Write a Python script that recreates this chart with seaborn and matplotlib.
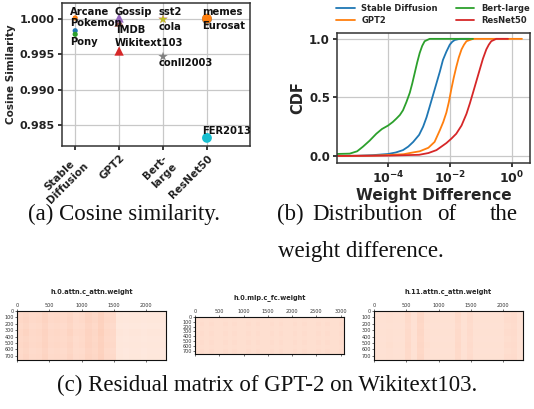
import numpy as np
import pandas as pd
import matplotlib
matplotlib.use('Agg')
import matplotlib.pyplot as plt
import seaborn as sns

# ---------------- data: (a) cosine similarity ----------------
model_keys = ['Stable Diffusion', 'GPT2', 'Bert-large', 'ResNet50']
model_ticklabels = ['Stable\nDiffusion', 'GPT2', 'Bert-\nlarge', 'ResNet50']
ds_model = ['Stable Diffusion', 'Stable Diffusion', 'Stable Diffusion',
            'GPT2', 'GPT2', 'GPT2',
            'Bert-large', 'Bert-large', 'Bert-large',
            'ResNet50', 'ResNet50', 'ResNet50']
ds_names = ['Arcane', 'Pokemon', 'Pony',
            'IMDB', 'Gossip', 'Wikitext103',
            'cola', 'sst2', 'conll2003',
            'Eurosat', 'memes', 'FER2013']
ds_cos = [1.0001, 0.9983, 0.9978,
          0.9995, 1.0001, 0.99545,
          0.99995, 0.9999, 0.99467,
          0.99995, 1.0000, 0.98324]
ds_colors = ['#ff7f0e', '#1f77b4', '#2ca02c',
             '#8c564b', '#9467bd', '#d62728',
             '#e377c2', '#bcbd22', '#7f7f7f',
             '#1f77b4', '#ff7f0e', '#17becf']
label_y = [1.00096, 0.99932, 0.99672,
           0.99836, 1.00096, 0.99658,
           0.99877, 1.00096, 0.99372,
           0.99891, 1.00096, 0.98415]
label_dx = [-0.11, -0.11, -0.11,
            -0.06, -0.11, -0.11,
            -0.11, -0.11, -0.11,
            -0.11, -0.11, -0.11]

# ---------------- data: (b) CDF of weight difference ----------------
sd_logx = [-5.67, -5.0, -4.5, -4.0, -3.75, -3.52, -3.35, -3.19, -3.0, -2.87, -2.76, -2.66,
           -2.55, -2.44, -2.33, -2.23, -2.12, -2.01, -1.93, -1.85, -1.69, -1.37]
sd_cdf = [0.0, 0.002, 0.007, 0.017, 0.03, 0.05, 0.08, 0.12, 0.18, 0.25, 0.33, 0.42,
          0.52, 0.62, 0.72, 0.82, 0.89, 0.95, 0.975, 0.99, 1.0, 1.0]
gpt_logx = [-5.67, -4.5, -4.0, -3.5, -3.2, -2.98, -2.7, -2.5, -2.33, -2.22, -2.12, -2.04,
            -1.96, -1.88, -1.80, -1.72, -1.63, -1.55, -1.47, -1.26, 0.32]
gpt_cdf = [0.0, 0.003, 0.008, 0.015, 0.03, 0.04, 0.07, 0.12, 0.22, 0.29, 0.37, 0.46,
           0.57, 0.67, 0.76, 0.84, 0.91, 0.95, 0.98, 1.0, 1.0]
bert_logx = [-5.67, -5.24, -5.0, -4.81, -4.6, -4.38, -4.2, -4.0, -3.85, -3.73, -3.62, -3.52,
             -3.41, -3.30, -3.22, -3.14, -3.06, -2.98, -2.90, -2.82, -2.66, -1.26]
bert_cdf = [0.017, 0.02, 0.04, 0.08, 0.13, 0.19, 0.23, 0.26, 0.29, 0.32, 0.35, 0.39,
            0.46, 0.54, 0.62, 0.71, 0.80, 0.88, 0.94, 0.98, 1.0, 1.0]
res_logx = [-5.67, -4.0, -3.0, -2.7, -2.44, -2.12, -1.95, -1.80, -1.63, -1.47, -1.36, -1.26,
            -1.15, -1.04, -0.94, -0.83, -0.75, -0.67, -0.51, -0.13]
res_cdf = [0.0, 0.003, 0.01, 0.025, 0.05, 0.11, 0.15, 0.19, 0.26, 0.36, 0.45, 0.54,
           0.64, 0.74, 0.83, 0.91, 0.95, 0.98, 1.0, 1.0]
cdf_colors = ['#1f77b4', '#ff7f0e', '#2ca02c', '#d62728']

# ---------------- data: (c) residual matrices (coarse profiles) ----------------
h1_title = 'h.0.attn.c_attn.weight'
h1_cols = [0.150, 0.160, 0.145, 0.150, 0.165, 0.145, 0.150, 0.145, 0.160, 0.140, 0.145, 0.165,
           0.155, 0.175, 0.150, 0.145, 0.085, 0.080, 0.085, 0.085, 0.080, 0.085, 0.085, 0.080]
h1_rows = [0.0, 0.004, -0.003, 0.005, 0.0, 0.004, -0.002, 0.002]
h2_title = 'h.0.mlp.c_fc.weight'
h2_cols = [0.130, 0.135, 0.130, 0.135, 0.130, 0.130, 0.135, 0.130, 0.135, 0.130, 0.130, 0.135,
           0.130, 0.135, 0.130, 0.130, 0.135, 0.130, 0.135, 0.130, 0.130, 0.135, 0.130, 0.135,
           0.130, 0.130, 0.135, 0.130, 0.135, 0.130, 0.130, 0.135]
h2_rows = [0.0, 0.002, 0.0, 0.002, 0.0, 0.002, 0.0, 0.002]
h3_title = 'h.11.attn.c_attn.weight'
h3_cols = [0.120, 0.120, 0.125, 0.120, 0.120, 0.145, 0.120, 0.155, 0.125, 0.120, 0.120, 0.120,
           0.120, 0.145, 0.120, 0.140, 0.120, 0.120, 0.120, 0.120, 0.120, 0.135, 0.140, 0.120]
h3_rows = [0.0, 0.002, -0.002, 0.002, 0.0, 0.004, 0.0, 0.002]
cell = 96  # weight-matrix units per coarse cell

# ---------------- style ----------------
sns.set_theme(style='whitegrid', rc={
    'axes.edgecolor': '#333333', 'axes.linewidth': 1.1,
    'grid.color': '#c8c8c8', 'grid.linewidth': 0.9,
    'xtick.bottom': True, 'ytick.left': True,
    'xtick.major.size': 3, 'ytick.major.size': 3,
    'xtick.color': '#222222', 'ytick.color': '#222222',
})
plt.rcParams['font.family'] = ['DejaVu Sans']

W, H = 534, 409
fig = plt.figure(figsize=(W / 100, H / 100), dpi=100)


def box(l, t, r, b):
    return [l / W, 1 - b / H, (r - l) / W, (b - t) / H]


# ---------------- (a) ----------------
axa = fig.add_axes(box(62, 3, 250, 146))
dfa = pd.DataFrame({'model': ds_model, 'dataset': ds_names, 'cos': ds_cos})
dfa['xi'] = [model_keys.index(m) for m in ds_model]
sns.scatterplot(data=dfa, x='xi', y='cos', hue='dataset', style='model', size='model',
                palette=dict(zip(ds_names, ds_colors)),
                markers={'Stable Diffusion': 'o', 'GPT2': '^', 'Bert-large': '*', 'ResNet50': 'o'},
                sizes={'Stable Diffusion': 14, 'GPT2': 45, 'Bert-large': 50, 'ResNet50': 50},
                linewidth=0, legend=False, ax=axa, zorder=3)
for name, m, ly, dx in zip(ds_names, ds_model, label_y, label_dx):
    axa.text(model_keys.index(m) + dx, ly, name, fontsize=7.2, fontweight='bold',
             va='center', ha='left', color='#111111', zorder=4)
axa.set_xlim(-0.3, 3.98)
axa.set_ylim(0.9821, 1.0022)
axa.set_xticks(range(4))
axa.set_xticklabels(model_ticklabels, rotation=45, ha='right', rotation_mode='anchor',
                    fontsize=7.5, fontweight='bold', multialignment='center')
axa.set_yticks([0.985, 0.990, 0.995, 1.000])
axa.set_yticklabels(['0.985', '0.990', '0.995', '1.000'], fontsize=8, fontweight='bold')
axa.set_xlabel('')
axa.set_ylabel('Cosine Similarity', fontsize=7.5, fontweight='bold', labelpad=3)
axa.tick_params(axis='both', pad=2)

# ---------------- (b) ----------------
axb = fig.add_axes(box(337, 33, 530, 163))
rows = []
for mk, lx, cd in zip(model_keys, [sd_logx, gpt_logx, bert_logx, res_logx],
                      [sd_cdf, gpt_cdf, bert_cdf, res_cdf]):
    for a, b in zip(lx, cd):
        rows.append((mk, 10 ** a, b))
dfb = pd.DataFrame(rows, columns=['model', 'diff', 'cdf'])
sns.lineplot(data=dfb, x='diff', y='cdf', hue='model', hue_order=model_keys,
             palette=cdf_colors, estimator=None, sort=False, linewidth=1.3, ax=axb)
axb.set_xscale('log')
axb.set_xlim(10 ** -5.65, 10 ** 0.58)
axb.set_ylim(-0.06, 1.05)
axb.set_xticks([1e-4, 1e-2, 1e0])
axb.set_xticklabels([r'$\mathbf{10^{-4}}$', r'$\mathbf{10^{-2}}$', r'$\mathbf{10^{0}}$'], fontsize=9)
axb.xaxis.set_minor_locator(matplotlib.ticker.NullLocator())
axb.set_yticks([0, 0.5, 1.0])
axb.set_yticklabels(['0.0', '0.5', '1.0'], fontsize=8.5, fontweight='bold')
axb.set_xlabel('Weight Difference', fontsize=11, fontweight='bold', labelpad=1)
axb.set_ylabel('CDF', fontsize=10.5, fontweight='bold', labelpad=3)
axb.tick_params(axis='both', pad=2)
leg = axb.legend(loc='upper center', bbox_to_anchor=(433 / W, 1.0), bbox_transform=fig.transFigure,
                 ncol=2, frameon=False, prop={'weight': 'bold', 'size': 6},
                 handlelength=2.2, columnspacing=2.2, labelspacing=0.35, handletextpad=0.8,
                 borderaxespad=0.1)

# ---------------- (c) heatmaps ----------------
def draw_heat(rect, cols, rowsv, title, ncols_units):
    ax = fig.add_axes(rect)
    mat = np.add.outer(np.array(rowsv), np.array(cols))
    sns.heatmap(mat, ax=ax, cmap='Reds', vmin=0, vmax=1, cbar=False,
                xticklabels=False, yticklabels=False)
    xt = list(range(0, ncols_units + 1, 500))
    yt = list(range(0, 701, 100))
    ax.xaxis.tick_top()
    ax.set_xticks([v / cell for v in xt])
    ax.set_xticklabels([str(v) for v in xt])
    ax.set_yticks([v / cell for v in yt])
    ax.set_yticklabels([str(v) for v in yt], rotation=0)
    ax.tick_params(axis='both', labelsize=3.5, length=1.5, width=0.5, pad=0.8,
                   colors='#333333', top=True, bottom=True, left=True)
    ax.tick_params(axis='x', labelbottom=False)
    for s in ax.spines.values():
        s.set_visible(True)
        s.set_color('#111111')
        s.set_linewidth(0.8)
    ax.set_title(title, fontsize=4.8, fontweight='bold', pad=7)
    return ax


draw_heat(box(17, 311, 166, 360), h1_cols, h1_rows, h1_title, 2304)
draw_heat(box(195, 317, 344, 354), h2_cols, h2_rows, h2_title, 3072)
draw_heat(box(374, 311, 523, 360), h3_cols, h3_rows, h3_title, 2304)

# ---------------- captions ----------------
cap = dict(family=['Liberation Serif'], fontsize=16.5, va='center', ha='left', color='#111111')
fig.text(28 / W, 1 - 214 / H, '(a) Cosine similarity.', **cap)
fig.text(277 / W, 1 - 214 / H, '(b)', **cap)
fig.text(312 / W, 1 - 214 / H, 'Distribution', **cap)
fig.text(437 / W, 1 - 214 / H, 'of', **cap)
fig.text(518 / W, 1 - 214 / H, 'the', **dict(cap, ha='right'))
fig.text(278 / W, 1 - 251 / H, 'weight difference.', **cap)
fig.text(267 / W, 1 - 385 / H, '(c) Residual matrix of GPT-2 on Wikitext103.', **dict(cap, ha='center'))

fig.savefig('out.png', dpi=100)
